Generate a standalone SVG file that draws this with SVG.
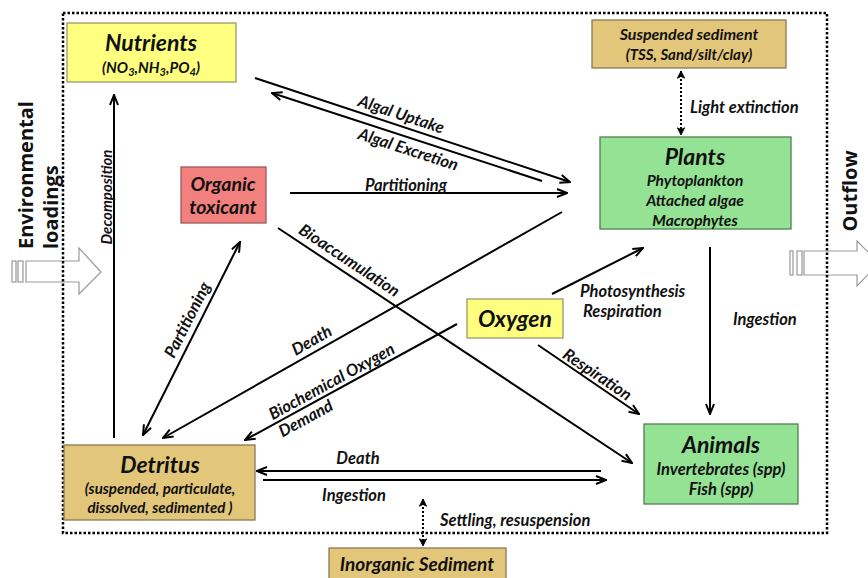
<svg xmlns="http://www.w3.org/2000/svg" width="868" height="578" viewBox="0 0 868 578">
<style>
.bx{stroke-width:1.3}
.yel{fill:#FFFF80;stroke:#9A9A6A}
.tan{fill:#E2C679;stroke:#8A7A55}
.grn{fill:#94E294;stroke:#4E7E4E}
.red{fill:#F2807E;stroke:#9A5A5A}
.t{font-family:Lato,"Open Sans","Liberation Sans",sans-serif;font-weight:bold;font-style:italic;fill:#111;text-anchor:middle}
.big{font-size:23px}
.sub{font-size:15.5px}
.lbl{font-family:Lato,"Open Sans","Liberation Sans",sans-serif;font-weight:bold;font-style:italic;font-size:16.5px;fill:#111;text-anchor:middle}
.st{text-anchor:start}
.side{font-family:"Open Sans","Liberation Sans",sans-serif;font-weight:bold;font-size:20px;fill:#111}
.ln{fill:none;stroke:#000;stroke-width:2}
.dl{fill:none;stroke:#000;stroke-width:2;stroke-dasharray:2 2}
.blk{fill:#fff;stroke:#999;stroke-width:1.2}
</style>
<defs>
<marker id="arr" viewBox="0 0 12 10" refX="11" refY="5" markerWidth="12" markerHeight="10" markerUnits="userSpaceOnUse" orient="auto-start-reverse">
<path d="M1,1 L11,5 L1,9" fill="none" stroke="#000" stroke-width="2"/>
</marker>
<marker id="sarr" viewBox="0 0 10 10" refX="9" refY="5" markerWidth="9" markerHeight="9" markerUnits="userSpaceOnUse" orient="auto-start-reverse">
<path d="M1,1 L9,5 L1,9 L3,5 Z" fill="#000" stroke="#000" stroke-width="1"/>
</marker>
</defs>
<rect width="868" height="578" fill="#fff"/>

<g id="inflow">
<rect class="blk" x="12" y="261" width="4" height="21"/>
<rect class="blk" x="18" y="261" width="5" height="21"/>
<path class="blk" d="M26,261 L79,261 L79,248 L101,272 L79,294 L79,282 L26,282 Z"/>
<text class="side" transform="translate(33,249) rotate(-90)">Environmental</text>
<text class="side" transform="translate(58,249) rotate(-90)">loadings</text>
</g>
<g id="outflow">
<rect class="blk" x="790" y="251" width="3" height="24"/>
<rect class="blk" x="797" y="251" width="5" height="24"/>
<path class="blk" d="M804,251 L857,251 L857,241 L879,263 L857,286 L857,275 L804,275 Z"/>
<text class="side" text-anchor="middle" transform="translate(857,191) rotate(-90)">Outflow</text>
</g>

<rect id="boundary" x="63" y="13" width="764" height="520" fill="none" stroke="#000" stroke-width="2.5" stroke-dasharray="2.5 2"/>

<g id="connectors">
<line class="ln" x1="114" y1="438" x2="114" y2="95" marker-end="url(#arr)"/>
<line class="ln" x1="255" y1="78" x2="570" y2="182" marker-end="url(#arr)"/>
<line class="ln" x1="542" y1="181" x2="272" y2="93" marker-end="url(#arr)"/>
<line class="ln" x1="290" y1="193" x2="567" y2="193" marker-end="url(#arr)"/>
<line class="ln" x1="562" y1="212" x2="163" y2="438" marker-end="url(#arr)"/>
<line class="ln" x1="143" y1="435" x2="240" y2="242" marker-start="url(#arr)" marker-end="url(#arr)"/>
<line class="ln" x1="278" y1="228" x2="632" y2="463" marker-end="url(#arr)"/>
<line class="ln" x1="457" y1="324" x2="245" y2="440" marker-end="url(#arr)"/>
<line class="ln" x1="552" y1="294" x2="643" y2="248" marker-end="url(#arr)"/>
<line class="ln" x1="538" y1="345" x2="639" y2="414" marker-end="url(#arr)"/>
<line class="ln" x1="710" y1="247" x2="710" y2="414" marker-end="url(#arr)"/>
<line class="ln" x1="601" y1="471" x2="257" y2="471" marker-end="url(#arr)"/>
<line class="ln" x1="263" y1="480" x2="606" y2="480" marker-end="url(#arr)"/>
<line class="dl" x1="681" y1="71" x2="681" y2="135" marker-start="url(#sarr)" marker-end="url(#sarr)"/>
<line class="dl" x1="423" y1="499" x2="423" y2="546" marker-start="url(#sarr)" marker-end="url(#sarr)"/>

<text class="lbl" font-size="15" style="font-size:15px" transform="translate(112,197) rotate(-90)">Decomposition</text>
<text class="lbl" transform="translate(401,115) rotate(18.3)" y="5">Algal Uptake</text>
<text class="lbl" transform="translate(408,150) rotate(18)" y="5">Algal Excretion</text>
<text class="lbl" x="406" y="191">Partitioning</text>
<text class="lbl" transform="translate(312,341) rotate(-29.5)" y="5">Death</text>
<text class="lbl" transform="translate(188,320) rotate(-63.3)" y="5">Partitioning</text>
<text class="lbl" transform="translate(349,261) rotate(33.6)" y="5">Bioaccumulation</text>
<text class="lbl" transform="translate(332,382) rotate(-28.7)" y="5">Biochemical Oxygen</text>
<text class="lbl" transform="translate(306,419) rotate(-28.7)" y="5">Demand</text>
<text class="lbl" transform="translate(597,375) rotate(34)" y="5">Respiration</text>
<text class="lbl st" x="580" y="297">Photosynthesis</text>
<text class="lbl st" x="583" y="317">Respiration</text>
<text class="lbl st" x="733" y="325">Ingestion</text>
<text class="lbl" x="358" y="464">Death</text>
<text class="lbl" x="354" y="501">Ingestion</text>
<text class="lbl st" x="690" y="113">Light extinction</text>
<text class="lbl st" x="440" y="526">Settling, resuspension</text>
</g>

<g id="nutrients">
<rect class="bx yel" x="67" y="23" width="169" height="59"/>
<text class="t big" x="151" y="51">Nutrients</text>
<text class="t" font-size="15" x="151" y="73">(NO<tspan font-size="11" dy="3">3</tspan><tspan dy="-3">,NH</tspan><tspan font-size="11" dy="3">3</tspan><tspan dy="-3">,PO</tspan><tspan font-size="11" dy="3">4</tspan><tspan dy="-3">)</tspan></text>
</g>
<g id="suspended-sediment">
<rect class="bx tan" x="592" y="20" width="194" height="48"/>
<text class="t" font-size="16" x="689" y="40">Suspended sediment</text>
<text class="t" font-size="15" x="689" y="60">(TSS, Sand/silt/clay)</text>
</g>
<g id="plants">
<rect class="bx grn" x="600" y="137" width="191" height="92"/>
<text class="t big" x="695" y="165">Plants</text>
<text class="t sub" x="695" y="186">Phytoplankton</text>
<text class="t sub" x="695" y="206">Attached algae</text>
<text class="t sub" x="695" y="226">Macrophytes</text>
</g>
<g id="organic-toxicant">
<rect class="bx red" x="181" y="167" width="85" height="56"/>
<text class="t" font-size="19.5" x="223" y="191" fill="#2a0505">Organic</text>
<text class="t" font-size="19.5" x="223" y="214" fill="#2a0505">toxicant</text>
</g>
<g id="oxygen">
<rect class="bx yel" x="467" y="299" width="96" height="39"/>
<text class="t" font-size="23" x="515" y="327">Oxygen</text>
</g>
<g id="detritus">
<rect class="bx tan" x="64" y="445" width="191" height="75"/>
<text class="t big" x="160" y="473">Detritus</text>
<text class="t" font-size="15" x="160" y="494">(suspended, particulate,</text>
<text class="t" font-size="15" x="160" y="513">dissolved, sedimented )</text>
</g>
<g id="animals">
<rect class="bx grn" x="644" y="424" width="154" height="80"/>
<text class="t big" x="721" y="453">Animals</text>
<text class="t" font-size="16.5" x="721" y="475">Invertebrates (spp)</text>
<text class="t" font-size="16.5" x="721" y="495">Fish (spp)</text>
</g>
<g id="inorganic-sediment">
<rect class="bx tan" x="329" y="548" width="177" height="34"/>
<text class="t" font-size="19" x="417" y="571">Inorganic Sediment</text>
</g>
</svg>
